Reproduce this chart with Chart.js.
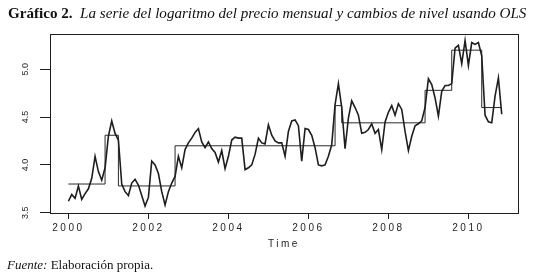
<!DOCTYPE html>
<html>
<head>
<meta charset="utf-8">
<script src="https://cdn.jsdelivr.net/npm/chart.js@4.4.1/dist/chart.umd.min.js"></script>
<style>
  body { margin: 0; background: #fff; }
  #wrap { position: relative; width: 536px; height: 278px; }
  #chart { position: absolute; left: 0; top: 0; }
  .title { position: absolute; left: 8px; top: 5px; font-family: "Liberation Serif", serif; font-size: 15.1px; white-space: nowrap; color: #111; }
  .source { position: absolute; left: 7px; top: 257px; font-family: "Liberation Serif", serif; font-size: 13px; white-space: nowrap; color: #111; }
</style>
</head>
<body>
<div id="wrap">
  <canvas id="chart" width="536" height="278"></canvas>
  <div class="title"><b>Gráfico 2.</b>&nbsp; <i>La serie del logaritmo del precio mensual y cambios de nivel usando OLS</i></div>
  <div class="source"><i>Fuente:</i> Elaboración propia.</div>
</div>
<script>
// monthly series, Jan 2000 - Nov 2010
const startYear = 2000;
const logPrice = [
  3.62, 3.69, 3.65, 3.78, 3.64, 3.70, 3.75, 3.86, 4.09, 3.93, 3.84, 3.97,
  4.30, 4.46, 4.33, 4.26, 3.80, 3.72, 3.68, 3.81, 3.85, 3.79, 3.68, 3.57,
  3.66, 4.04, 4.00, 3.91, 3.72, 3.58, 3.72, 3.81, 3.88, 4.09, 3.97, 4.16,
  4.23, 4.28, 4.34, 4.38, 4.24, 4.18, 4.24, 4.17, 4.13, 4.03, 4.15, 3.96,
  4.09, 4.26, 4.29, 4.28, 4.28, 3.95, 3.97, 4.00, 4.11, 4.28, 4.23, 4.22,
  4.42, 4.31, 4.25, 4.23, 4.23, 4.09, 4.35, 4.46, 4.47, 4.41, 4.04, 4.38,
  4.37, 4.31, 4.18, 4.00, 3.99, 4.00, 4.09, 4.21, 4.63, 4.85, 4.60, 4.17,
  4.49, 4.67, 4.60, 4.52, 4.33, 4.34, 4.37, 4.43, 4.33, 4.37, 4.16, 4.45,
  4.55, 4.62, 4.52, 4.64, 4.58, 4.35, 4.15, 4.30, 4.41, 4.43, 4.46, 4.60,
  4.90, 4.84, 4.70, 4.51, 4.77, 4.83, 4.83, 4.85, 5.22, 5.25, 5.06, 5.30,
  5.04, 5.28, 5.26, 5.28, 5.14, 4.52, 4.45, 4.44, 4.72, 4.91, 4.53
];

// OLS level shifts: month index where each level starts, and its value
const levelStartMonth = [0, 11, 15, 32, 80, 82, 107, 115, 124];
const levelValue = [3.80, 4.31, 3.78, 4.20, 4.62, 4.44, 4.78, 5.20, 4.60];

const yearTicks = [2000, 2002, 2004, 2006, 2008, 2010];
const valueTicks = [3.5, 4.0, 4.5, 5.0];

const seriesPoints = logPrice.map((v, i) => ({ x: startYear + i / 12, y: v }));
const levelPoints = levelStartMonth.map((m, k) => ({ x: startYear + m / 12, y: levelValue[k] }));
levelPoints.push({ x: startYear + (logPrice.length - 1) / 12, y: levelValue[levelValue.length - 1] });

const ink = "#1e1e1e";
const xFont = { family: "Liberation Sans", size: 10 };
const yFont = { family: "Liberation Sans", size: 9 };

// box around the plot, and wider spacing for the x axis text drawn after it
const framePlugin = {
  id: "frame",
  afterDatasetsDraw(chart) {
    const { ctx, chartArea: a } = chart;
    ctx.save();
    ctx.strokeStyle = ink;
    ctx.lineWidth = 1;
    ctx.strokeRect(a.left + 0.5, a.top + 0.5, a.right - a.left, a.bottom - a.top);
    ctx.restore();
    ctx.letterSpacing = "2.5px";
  },
  afterDraw(chart) {
    chart.ctx.letterSpacing = "0px";
  }
};

new Chart(document.getElementById("chart").getContext("2d"), {
  type: "line",
  data: {
    datasets: [
      {
        data: seriesPoints,
        borderColor: ink,
        borderWidth: 1.6,
        pointRadius: 0,
        tension: 0
      },
      {
        data: levelPoints,
        borderColor: "#2a2a2a",
        borderWidth: 1,
        pointRadius: 0,
        stepped: "before"
      }
    ]
  },
  options: {
    responsive: false,
    animation: false,
    devicePixelRatio: 1,
    layout: { padding: { left: 0, right: 18, top: 34, bottom: 25 } },
    plugins: { legend: { display: false }, tooltip: { enabled: false } },
    scales: {
      x: {
        type: "linear",
        min: 1999.54,
        max: 2011.24,
        afterBuildTicks: (s) => { s.ticks = yearTicks.map((v) => ({ value: v })); },
        afterFit: (s) => { s.height = 40; },
        grid: { drawOnChartArea: false, tickLength: 6, tickColor: ink, z: 1 },
        border: { display: false },
        ticks: { font: xFont, color: ink, padding: 3, maxRotation: 0, autoSkip: false, z: 1, callback: (v) => String(v) },
        title: { display: true, text: "Time", font: xFont, color: ink, padding: { top: 0, bottom: 3 } }
      },
      y: {
        min: 3.497,
        max: 5.369,
        afterBuildTicks: (s) => { s.ticks = valueTicks.map((v) => ({ value: v })); },
        afterFit: (s) => { s.width = 50; },
        grid: { drawOnChartArea: false, tickLength: 10, tickColor: ink },
        border: { display: false },
        ticks: { font: yFont, color: ink, padding: 8, minRotation: 90, maxRotation: 90, crossAlign: "center", callback: (v) => v.toFixed(1) }
      }
    }
  },
  plugins: [framePlugin]
});
</script>
</body>
</html>
